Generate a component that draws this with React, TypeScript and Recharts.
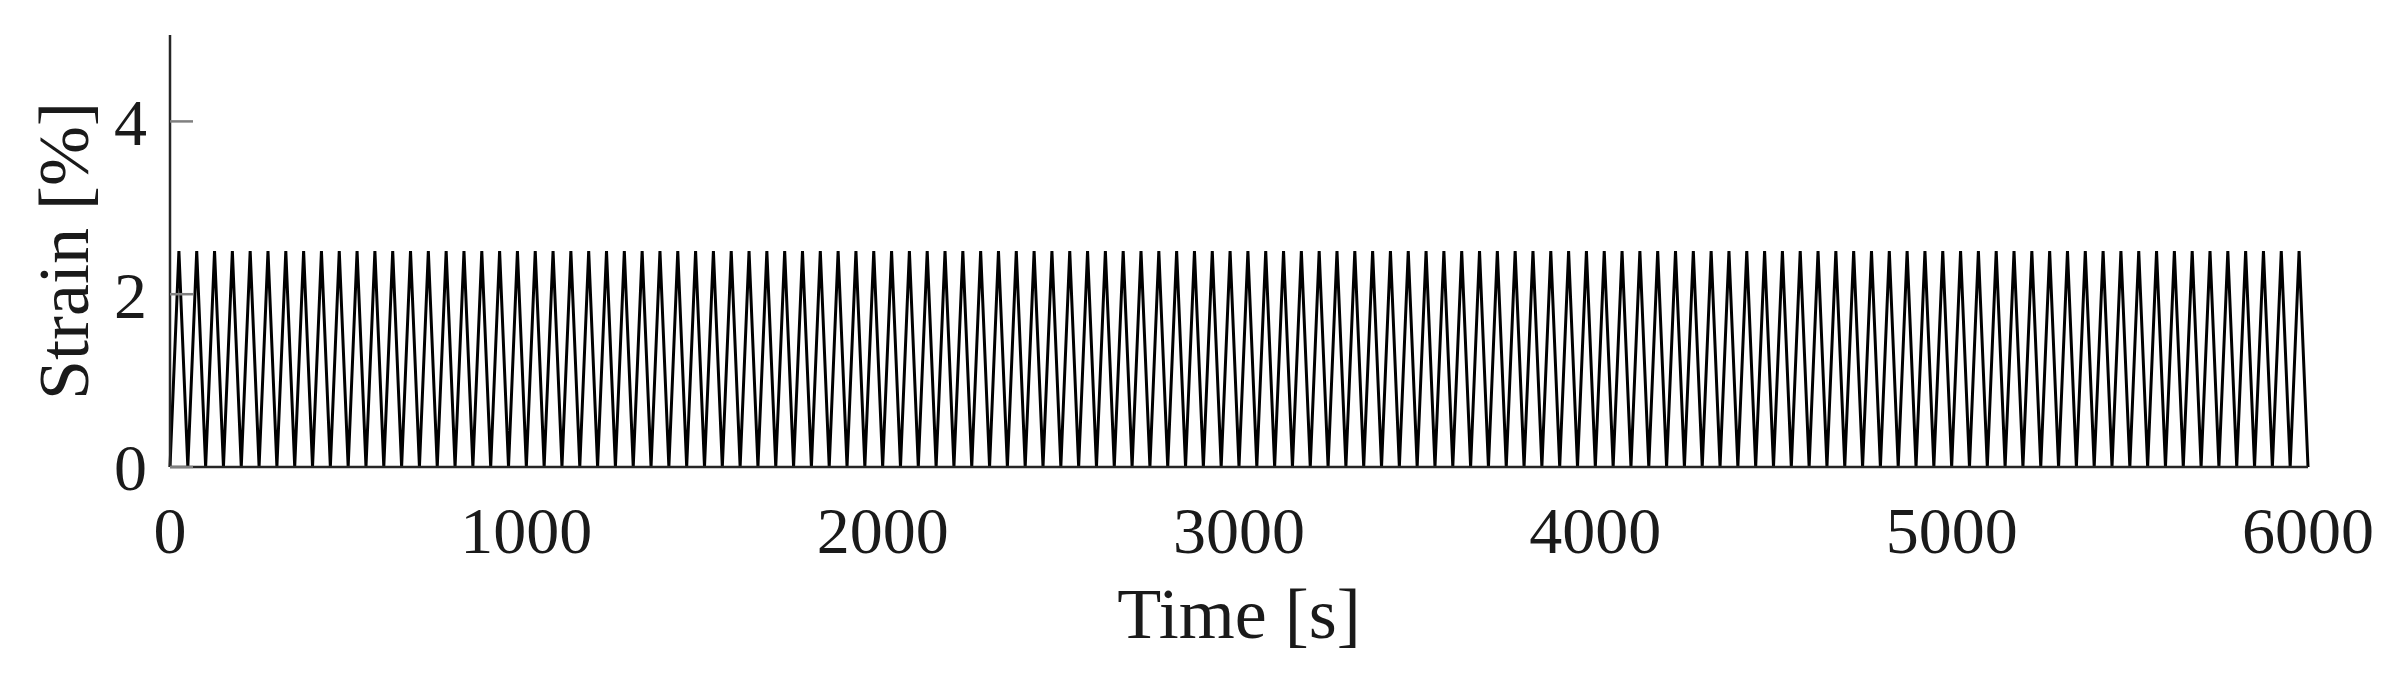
import React from 'react';
import { LineChart, Line, XAxis, YAxis } from 'recharts';

// strain peaks of each loading cycle (%): 120 cycles
const peakStrain = [
  2.5, 2.5, 2.5, 2.5, 2.5, 2.5, 2.5, 2.5, 2.5, 2.5, 2.5, 2.5, 2.5, 2.5, 2.5, 2.5, 2.5, 2.5, 2.5, 2.5,
  2.5, 2.5, 2.5, 2.5, 2.5, 2.5, 2.5, 2.5, 2.5, 2.5, 2.5, 2.5, 2.5, 2.5, 2.5, 2.5, 2.5, 2.5, 2.5, 2.5,
  2.5, 2.5, 2.5, 2.5, 2.5, 2.5, 2.5, 2.5, 2.5, 2.5, 2.5, 2.5, 2.5, 2.5, 2.5, 2.5, 2.5, 2.5, 2.5, 2.5,
  2.5, 2.5, 2.5, 2.5, 2.5, 2.5, 2.5, 2.5, 2.5, 2.5, 2.5, 2.5, 2.5, 2.5, 2.5, 2.5, 2.5, 2.5, 2.5, 2.5,
  2.5, 2.5, 2.5, 2.5, 2.5, 2.5, 2.5, 2.5, 2.5, 2.5, 2.5, 2.5, 2.5, 2.5, 2.5, 2.5, 2.5, 2.5, 2.5, 2.5,
  2.5, 2.5, 2.5, 2.5, 2.5, 2.5, 2.5, 2.5, 2.5, 2.5, 2.5, 2.5, 2.5, 2.5, 2.5, 2.5, 2.5, 2.5, 2.5, 2.5
];
// every cycle unloads back to zero
const troughStrain = 0;
const cyclePeriod = 50; // s

const xTicks = [0, 1000, 2000, 3000, 4000, 5000, 6000];
const yTicks = [0, 2, 4];

const data: { t: number; strain: number }[] = [];
peakStrain.forEach((p, i) => {
  data.push({ t: i * cyclePeriod, strain: troughStrain });
  data.push({ t: i * cyclePeriod + cyclePeriod / 2, strain: p });
});
data.push({ t: peakStrain.length * cyclePeriod, strain: troughStrain });

const FONT = '"Liberation Serif", "Times New Roman", serif';
const TEXT = '#1a1a1a';

const YLabel = ({ viewBox }: any) => {
  const x = viewBox.x + 64;
  const y = viewBox.y + viewBox.height / 2;
  return (
    <text
      x={x}
      y={y}
      transform={`rotate(-90, ${x}, ${y})`}
      textAnchor="middle"
      dominantBaseline="central"
      fontFamily={FONT}
      fontSize={72}
      fill={TEXT}
    >
      Strain [%]
    </text>
  );
};

const XLabel = ({ viewBox }: any) => (
  <text
    x={viewBox.x + viewBox.width / 2}
    y={638}
    textAnchor="middle"
    fontFamily={FONT}
    fontSize={72}
    fill={TEXT}
  >
    Time [s]
  </text>
);

const App = () => {
  return (
    <div style={{ position: 'absolute', left: 0, top: 0, background: '#fff' }}>
      <LineChart width={2389} height={675} data={data} margin={{ top: 35, right: 81, left: 0, bottom: 0 }}>
        <XAxis
          dataKey="t"
          type="number"
          domain={[0, 6000]}
          ticks={xTicks}
          interval={0}
          height={208}
          tickLine={false}
          tickSize={0}
          tickMargin={39}
          axisLine={{ stroke: '#262626', strokeWidth: 2.5 }}
          tick={{ fontFamily: FONT, fontSize: 66, fill: TEXT }}
          label={<XLabel />}
        />
        <YAxis
          type="number"
          domain={[0, 5]}
          ticks={yTicks}
          interval={0}
          width={170}
          tickSize={-23}
          tickMargin={46}
          tickLine={{ stroke: '#808080', strokeWidth: 2.5 }}
          axisLine={{ stroke: '#262626', strokeWidth: 2.5 }}
          tick={{ fontFamily: FONT, fontSize: 66, fill: TEXT }}
          label={<YLabel />}
        />
        <Line
          type="linear"
          dataKey="strain"
          stroke="#000"
          strokeWidth={3}
          dot={false}
          activeDot={false}
          isAnimationActive={false}
        />
      </LineChart>
    </div>
  );
};

export default App;
